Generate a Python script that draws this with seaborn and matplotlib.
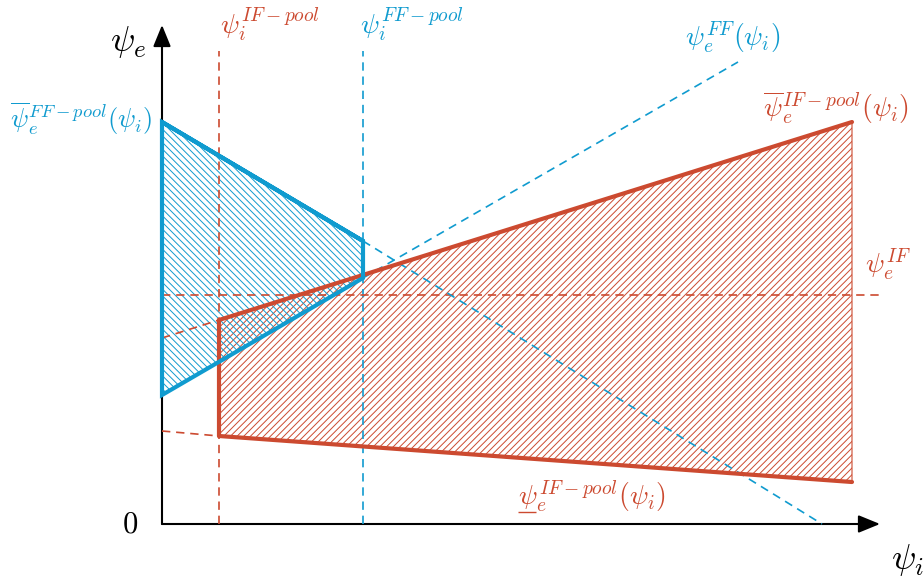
import matplotlib
matplotlib.use("Agg")
import matplotlib.pyplot as plt
import seaborn as sns
import pandas as pd
from matplotlib.patches import Polygon

# ---------------- data (diagram coordinates) ----------------
BLUE = "#109bcf"
RED = "#cc4a30"

# FF-pool region (blue)
ff_x = [0.00, 2.01, 2.01, 0.00]
ff_y = [4.02, 2.83, 2.46, 1.29]

# IF-pool region (red)
if_x = [0.57, 6.90, 6.90, 0.57]
if_y = [2.04, 4.02, 0.42, 0.88]

# dashed guide lines
ffline_x = [2.01, 5.76]          # psi_e^FF(psi_i) continuation
ffline_y = [2.46, 4.62]
ffupper_x = [2.01, 6.60]         # upper FF-pool bound continuation
ffupper_y = [2.83, 0.00]
ifupper_x = [0.00, 0.57]         # upper IF-pool bound extension
ifupper_y = [1.86, 2.04]
iflower_x = [0.00, 0.57]         # lower IF-pool bound extension
iflower_y = [0.93, 0.88]
psi_i_if = 0.57
psi_i_ff = 2.01
psi_e_if = 2.29
vline_top = 4.73
hline_end = 7.18

x_axis_end = 7.18
y_axis_end = 4.99

# ---------------- figure ----------------
sns.set_theme(style="white")
plt.rcParams["mathtext.fontset"] = "cm"
plt.rcParams["hatch.linewidth"] = 0.7

fig = plt.figure(figsize=(9.24, 5.82), dpi=100)
ax = fig.add_axes([0, 0, 1, 1])
ax.set_xlim(-1.62, 7.62)
ax.set_ylim(-0.58, 5.24)
ax.axis("off")

# hatched regions
ax.add_patch(Polygon(list(zip(if_x, if_y)), closed=True, facecolor="none",
                     edgecolor=RED, linewidth=0.8, hatch="/////", zorder=2))
ax.add_patch(Polygon(list(zip(ff_x, ff_y)), closed=True, facecolor="none",
                     edgecolor=BLUE, linewidth=0, hatch="\\\\\\\\\\", zorder=2))


def sline(xs, ys, color, lw, dashed=False, z=3):
    df = pd.DataFrame({"x": xs, "y": ys})
    sns.lineplot(data=df, x="x", y="y", sort=False, estimator=None, errorbar=None,
                 ax=ax, color=color, linewidth=lw, zorder=z)
    line = ax.lines[-1]
    if dashed:
        line.set_dashes((5, 3.5))
    line.set_solid_joinstyle("miter")
    return line


sline([psi_i_if, psi_i_if], [0, vline_top], RED, 1.2, True)
sline([psi_i_ff, psi_i_ff], [0, vline_top], BLUE, 1.2, True)
sline([0, hline_end], [psi_e_if, psi_e_if], RED, 1.2, True)
sline(ffline_x, ffline_y, BLUE, 1.2, True)
sline(ffupper_x, ffupper_y, BLUE, 1.2, True)
sline(ifupper_x, ifupper_y, RED, 1.2, True)
sline(iflower_x, iflower_y, RED, 1.2, True)

# thick boundaries
sline([if_x[3], if_x[0], if_x[1]], [if_y[3], if_y[0], if_y[1]], RED, 3, z=4)
sline([if_x[3], if_x[2]], [if_y[3], if_y[2]], RED, 3, z=4)
sline(ff_x + [ff_x[0], ff_x[1]], ff_y + [ff_y[0], ff_y[1]], BLUE, 3, z=5)

# axes with arrows
arrow = dict(arrowstyle="-|>,head_length=1.1,head_width=0.45", color="black",
             lw=1.5, shrinkA=0, shrinkB=0)
ax.annotate("", xy=(x_axis_end, 0), xytext=(0, 0), arrowprops=arrow, zorder=1)
ax.annotate("", xy=(0, y_axis_end), xytext=(0, 0), arrowprops=arrow, zorder=1)

# labels
FS = 20
ax.text(-0.34, 4.82, r"$\psi_e$", fontsize=26, color="black", ha="center", va="center")
ax.text(-0.32, 0.0, r"$0$", fontsize=22, color="black", ha="center", va="center")
ax.text(7.46, -0.36, r"$\psi_i$", fontsize=26, color="black", ha="center", va="center")
ax.text(0.58, 4.99, r"$\psi_i^{IF-pool}$", fontsize=FS, color=RED, ha="left", va="center")
ax.text(1.98, 4.99, r"$\psi_i^{FF-pool}$", fontsize=FS, color=BLUE, ha="left", va="center")
ax.text(5.23, 4.86, r"$\psi_e^{FF}(\psi_i)$", fontsize=FS, color=BLUE, ha="left", va="center")
ax.text(-1.52, 4.05, r"$\overline{\psi}_e^{FF-pool}(\psi_i)$", fontsize=19, color=BLUE,
        ha="left", va="center")
ax.text(6.01, 4.16, r"$\overline{\psi}_e^{IF-pool}(\psi_i)$", fontsize=FS, color=RED,
        ha="left", va="center")
ax.text(7.03, 2.59, r"$\psi_e^{IF}$", fontsize=FS, color=RED, ha="left", va="center")
ax.text(3.56, 0.27, r"$\psi_e^{IF-pool}(\psi_i)$", fontsize=FS, color=RED,
        ha="left", va="center")
# underline decoration for the lower-bound symbol
ax.plot([3.56, 3.74], [0.12, 0.12], color=RED, linewidth=1.0, solid_capstyle="butt")

fig.savefig("out.png", dpi=100)
